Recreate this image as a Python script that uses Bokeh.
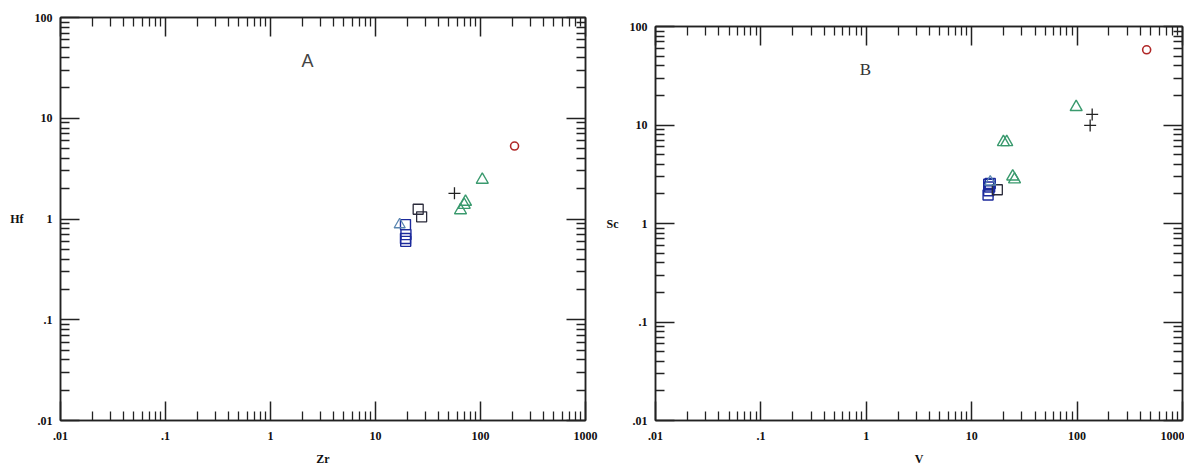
from bokeh.plotting import figure
from bokeh.layouts import row
from bokeh.models import FixedTicker, LogAxis, Label
from bokeh.embed import file_html
from bokeh.resources import INLINE

# ---- data ----
major_ticks = [0.01, 0.1, 1, 10, 100, 1000]
tick_labels = [".01", ".1", "1", "10", "100", "1000"]

# Panel A: Hf vs Zr
a_sq_blue_zr = [19.3, 19.5, 19.3, 19.4]
a_sq_blue_hf = [0.88, 0.70, 0.64, 0.60]
a_sq_dark_zr = [25.5, 27.5]
a_sq_dark_hf = [1.25, 1.05]
a_tri_blue_zr = [17.0]
a_tri_blue_hf = [0.88]
a_tri_green_zr = [104, 72, 70, 64.5]
a_tri_green_hf = [2.45, 1.48, 1.38, 1.22]
a_plus_zr = [56.5]
a_plus_hf = [1.8]
a_circ_zr = [211]
a_circ_hf = [5.3]

# Panel B: Sc vs V
b_sq_blue_v = [14.5, 14.8, 14.5, 14.3, 15.0]
b_sq_blue_sc = [2.5, 2.35, 2.15, 1.95, 2.55]
b_sq_dark_v = [17.5]
b_sq_dark_sc = [2.2]
b_tri_blue_v = [15.0]
b_tri_blue_sc = [2.65]
b_tri_green_v = [98, 20, 21.5, 24.5, 25.5]
b_tri_green_sc = [15.2, 6.7, 6.7, 3.0, 2.8]
b_plus_v = [139, 133]
b_plus_sc = [12.8, 9.9]
b_circ_v = [457]
b_circ_sc = [58]

minor_ticks = [m * d for d in [0.01, 0.1, 1, 10, 100] for m in range(2, 10)]

BLUE = "#1c2a9c"
DARK = "#2a2a3a"
GREEN = "#3a9a6e"
TBLUE = "#5a86b0"
RED = "#b02828"
AXC = "#222222"


def style_axis(ax, show_labels):
    ax.ticker = FixedTicker(ticks=major_ticks, minor_ticks=minor_ticks)
    ax.major_tick_in = 19
    ax.major_tick_out = 0
    ax.minor_tick_in = 9
    ax.minor_tick_out = 0
    ax.axis_line_color = AXC
    ax.axis_line_width = 1.5
    ax.major_tick_line_color = AXC
    ax.major_tick_line_width = 1.5
    ax.minor_tick_line_color = AXC
    ax.minor_tick_line_width = 1.3
    if show_labels:
        ax.major_label_overrides = {t: l for t, l in zip(major_ticks, tick_labels)}
        ax.major_label_text_font = "Liberation Serif"
        ax.major_label_text_font_style = "bold"
        ax.major_label_text_font_size = "12px"
        ax.major_label_text_color = "#111111"
        ax.axis_label_text_font = "Liberation Serif"
        ax.axis_label_text_font_style = "bold"
        ax.axis_label_text_font_size = "12px"
        ax.axis_label_text_color = "#111111"
    else:
        ax.major_label_overrides = {t: "" for t in major_ticks}
        ax.major_label_text_font_size = "1px"
        ax.major_label_text_alpha = 0
        ax.major_label_standoff = 0


def make_panel(xr, yr, width, height, bl, br, bt, bb, xlabel, ylabel):
    p = figure(width=width, height=height, x_axis_type="log", y_axis_type="log",
               x_range=xr, y_range=yr, output_backend="svg", toolbar_location=None,
               min_border_left=bl, min_border_right=br, min_border_top=bt,
               min_border_bottom=bb, frame_align=False)
    p.xgrid.visible = False
    p.ygrid.visible = False
    p.outline_line_color = AXC
    p.outline_line_width = 1.5
    p.background_fill_color = "white"
    p.border_fill_color = "white"
    for ax in p.xaxis + p.yaxis:
        style_axis(ax, True)
    p.xaxis.axis_label = xlabel
    p.yaxis.axis_label = ylabel
    p.yaxis.axis_label_orientation = "horizontal"
    p.xaxis.major_label_standoff = 11
    p.xaxis.axis_label_standoff = 9
    p.yaxis.major_label_standoff = 8
    p.yaxis.axis_label_standoff = 8
    top = LogAxis()
    right = LogAxis()
    style_axis(top, False)
    style_axis(right, False)
    p.add_layout(top, "above")
    p.add_layout(right, "right")
    return p


def add_points(p, sqb, sqd, trb, trg, pl, ci):
    p.scatter(sqb[0], sqb[1], marker="square", size=10, fill_color=None,
              line_color=BLUE, line_width=1.4)
    p.scatter(sqd[0], sqd[1], marker="square", size=10, fill_color=None,
              line_color=DARK, line_width=1.3)
    p.scatter(trb[0], trb[1], marker="triangle", size=11, fill_color=None,
              line_color=TBLUE, line_width=1.3)
    p.scatter(trg[0], trg[1], marker="triangle", size=12, fill_color=None,
              line_color=GREEN, line_width=1.4)
    p.scatter(pl[0], pl[1], marker="cross", size=12, line_color="#222222",
              line_width=1.3)
    p.scatter(ci[0], ci[1], marker="circle", size=8, fill_color=None,
              line_color=RED, line_width=1.6)


pa = make_panel((0.01, 1000), (0.01, 100), 600, 468, 60, 15, 17, 45, "Zr", "Hf")
add_points(pa, (a_sq_blue_zr, a_sq_blue_hf), (a_sq_dark_zr, a_sq_dark_hf),
           (a_tri_blue_zr, a_tri_blue_hf), (a_tri_green_zr, a_tri_green_hf),
           (a_plus_zr, a_plus_hf), (a_circ_zr, a_circ_hf))
pa.add_layout(Label(x=2.25, y=37, text="A", text_align="center", text_baseline="middle",
                    text_font="Liberation Sans", text_font_size="18px",
                    text_color="#444444"))

pb = make_panel((0.01, 1000), (0.01, 100), 584, 468, 55, 2, 26, 44, "V", "Sc")
add_points(pb, (b_sq_blue_v, b_sq_blue_sc), (b_sq_dark_v, b_sq_dark_sc),
           (b_tri_blue_v, b_tri_blue_sc), (b_tri_green_v, b_tri_green_sc),
           (b_plus_v, b_plus_sc), (b_circ_v, b_circ_sc))
pb.add_layout(Label(x=0.98, y=37, text="B", text_align="center", text_baseline="middle",
                    text_font="Liberation Serif", text_font_size="17px",
                    text_color="#333333"))

layout = row(pa, pb)
open("out.html", "w").write(file_html(layout, INLINE))
